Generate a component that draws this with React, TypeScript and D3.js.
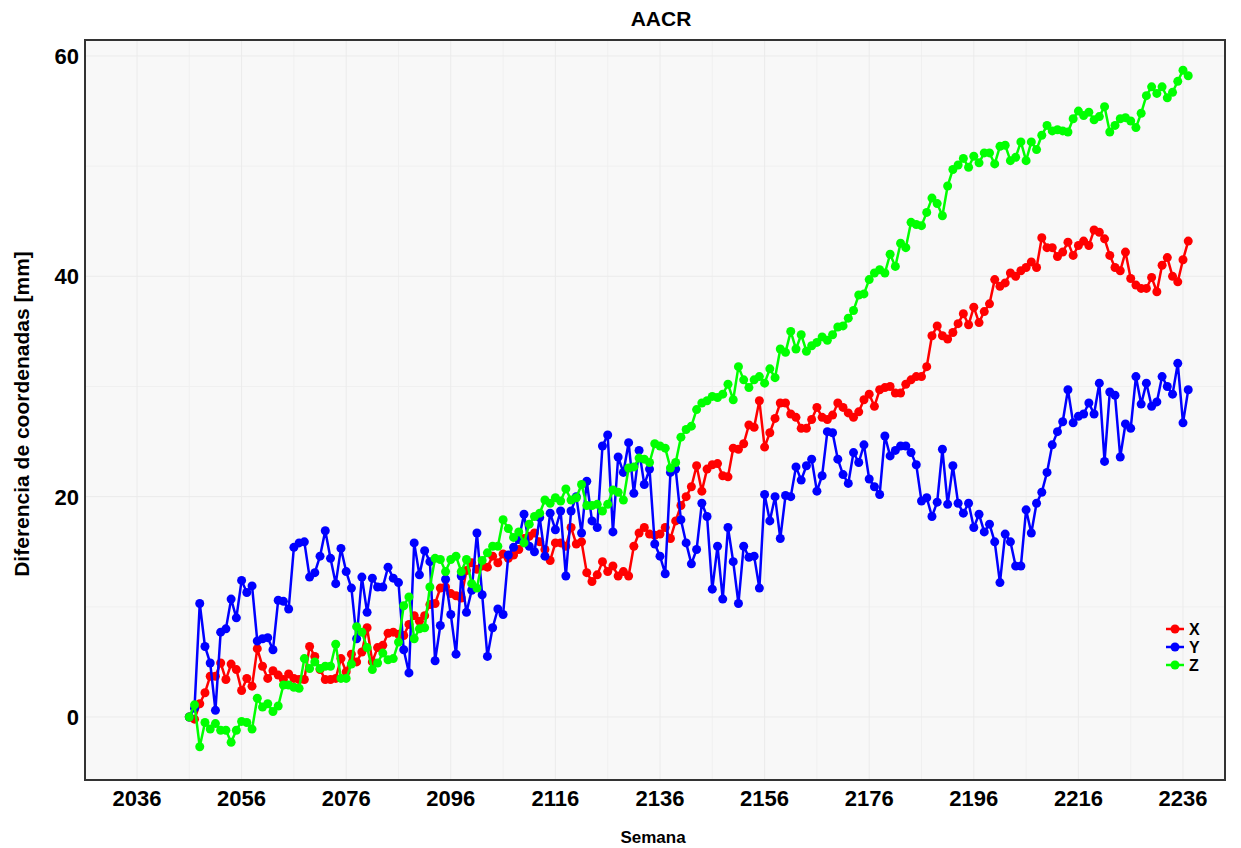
import React from 'react';
import * as d3 from 'd3';

const startWeek = 2046;

const xValues = [
  0, -0.2, 1.2, 2.2, 3.7, 3.7, 4.9, 3.4, 4.8, 4.3,
  2.4, 3.5, 2.8, 6.2, 4.6, 3.5, 4.2, 3.8, 3.4, 3.9,
  3.5, 3.4, 3.4, 6.4, 5.5, 4.3, 3.4, 3.4, 3.5, 5.3,
  4.1, 5.7, 5.0, 5.9, 8.1, 5.0, 6.3, 6.5, 7.6, 7.7,
  7.5, 7.4, 8.4, 9.2, 8.7, 9.2, 10.2, 10.3, 11.7, 11.8,
  11.2, 11.0, 10.8, 13.3, 14.0, 13.4, 13.7, 13.6, 14.6, 14.0,
  14.8, 14.4, 14.7, 15.2, 16.2, 16.4, 16.7, 15.9, 15.2, 14.2,
  15.8, 15.8, 15.5, 17.2, 15.7, 15.9, 13.1, 12.3, 12.9, 14.1,
  13.2, 13.7, 12.8, 13.2, 12.8, 15.5, 16.7, 17.2, 16.6, 16.5,
  16.6, 17.2, 16.2, 17.8, 19.2, 20.0, 20.9, 22.8, 20.5, 22.5,
  22.9, 23.0, 21.9, 21.8, 24.4, 24.3, 24.8, 26.5, 26.3, 28.7,
  24.5, 25.8, 27.1, 28.5, 28.5, 27.5, 27.2, 26.2, 26.2, 27.0,
  28.1, 27.2, 27.0, 27.4, 28.5, 28.1, 27.6, 27.2, 27.7, 28.8,
  29.3, 28.2, 29.7, 29.9, 30.0, 29.4, 29.4, 30.2, 30.6, 30.9,
  30.9, 31.8, 34.6, 35.5, 34.6, 34.3, 34.9, 35.7, 36.6, 35.6,
  37.2, 35.8, 36.8, 37.5, 39.7, 39.1, 39.4, 40.3, 40.0, 40.5,
  40.8, 41.3, 40.8, 43.5, 42.6, 42.6, 41.8, 42.2, 43.1, 41.9,
  42.8, 43.2, 42.8, 44.2, 44.0, 43.4, 41.9, 40.8, 40.5, 42.2,
  39.8, 39.2, 38.9, 38.9, 39.9, 38.6, 41.0, 41.7, 40.0, 39.5,
  41.5, 43.2,
];

const yValues = [
  0, 0.8, 10.3, 6.4, 4.9, 0.6, 7.7, 8.0, 10.7, 9.0,
  12.4, 11.3, 11.9, 6.9, 7.1, 7.2, 6.1, 10.6, 10.5, 9.8,
  15.4, 15.8, 15.9, 12.7, 13.1, 14.6, 16.9, 14.4, 12.1, 15.3,
  13.2, 11.7, 7.1, 12.7, 9.5, 12.6, 11.8, 11.8, 13.6, 12.6,
  12.2, 6.1, 4.0, 15.8, 12.9, 15.1, 14.1, 5.1, 8.3, 12.5,
  9.3, 5.7, 12.8, 9.5, 11.5, 16.7, 11.1, 5.5, 8.1, 9.8,
  9.3, 14.7, 15.4, 16.1, 18.4, 15.5, 15.0, 18.1, 14.6, 18.5,
  17.0, 18.7, 12.8, 18.7, 20.0, 16.7, 21.4, 17.8, 17.2, 24.6,
  25.6, 16.8, 23.6, 22.2, 24.9, 20.3, 24.2, 21.1, 22.5, 15.7,
  14.6, 13.0, 22.2, 22.5, 17.9, 15.8, 13.9, 15.2, 19.4, 18.2,
  11.6, 15.5, 10.7, 17.2, 14.1, 10.3, 15.5, 14.5, 14.6, 11.7,
  20.2, 17.8, 20.0, 16.2, 20.1, 20.0, 22.7, 21.5, 22.8, 23.4,
  20.5, 21.9, 25.9, 25.8, 23.4, 22.0, 21.2, 24.0, 23.1, 24.7,
  21.6, 20.9, 20.2, 25.5, 23.7, 24.2, 24.6, 24.6, 24.0, 22.9,
  19.6, 19.9, 18.2, 19.5, 24.3, 19.3, 22.8, 19.4, 18.5, 19.4,
  17.2, 18.4, 16.8, 17.5, 15.9, 12.2, 16.6, 15.9, 13.7, 13.7,
  18.8, 16.7, 19.4, 20.4, 22.2, 24.7, 25.9, 26.8, 29.7, 26.7,
  27.3, 27.5, 28.5, 27.5, 30.3, 23.2, 29.5, 29.2, 23.6, 26.6,
  26.2, 30.9, 28.4, 30.3, 28.2, 28.6, 30.9, 30.0, 29.3, 32.1,
  26.7, 29.7,
];

const zValues = [
  0, 1.1, -2.7, -0.5, -1.1, -0.6, -1.2, -1.2, -2.3, -1.2,
  -0.4, -0.5, -1.1, 1.7, 0.9, 1.2, 0.5, 1.0, 2.9, 2.9,
  2.7, 2.6, 5.3, 4.4, 5.0, 4.4, 4.6, 4.6, 6.6, 3.5,
  3.5, 4.8, 8.2, 7.7, 6.3, 4.3, 4.9, 5.8, 5.2, 5.3,
  6.8, 10.1, 10.9, 7.1, 8.0, 8.1, 11.8, 14.4, 14.3, 13.2,
  14.3, 14.6, 13.2, 14.3, 12.1, 11.7, 14.2, 14.9, 15.5, 15.5,
  17.9, 17.1, 16.3, 16.8, 15.8, 17.5, 18.2, 18.5, 19.7, 19.4,
  19.9, 19.6, 20.7, 19.7, 19.9, 21.1, 19.2, 19.2, 19.3, 18.7,
  19.3, 20.6, 20.4, 19.7, 22.6, 22.7, 23.5, 23.4, 23.1, 24.8,
  24.6, 24.4, 22.6, 23.1, 25.4, 26.1, 26.4, 27.9, 28.5, 28.7,
  29.1, 29.0, 29.3, 30.2, 28.8, 31.8, 30.6, 29.9, 30.6, 30.9,
  30.3, 31.6, 30.8, 33.4, 33.1, 35.0, 33.4, 34.7, 33.2, 33.7,
  34.0, 34.5, 34.2, 34.7, 35.4, 35.5, 36.2, 36.9, 38.3, 38.4,
  39.7, 40.3, 40.6, 40.3, 42.0, 40.9, 43.0, 42.6, 44.9, 44.7,
  44.6, 45.8, 47.1, 46.6, 45.5, 48.2, 49.7, 50.1, 50.7, 49.9,
  50.9, 50.3, 51.2, 51.2, 50.2, 51.8, 51.9, 50.5, 50.8, 52.2,
  50.5, 52.2, 51.5, 52.8, 53.7, 53.2, 53.3, 53.2, 53.1, 54.3,
  55.0, 54.6, 54.9, 54.2, 54.5, 55.4, 53.1, 53.7, 54.3, 54.4,
  54.1, 53.5, 54.8, 56.4, 57.2, 56.6, 57.2, 56.2, 56.7, 57.7,
  58.7, 58.2,
];

const seriesNames = ['X', 'Y', 'Z'];
const seriesColors = ['#ff0000', '#0000ff', '#00ff00'];
const seriesData = [xValues, yValues, zValues];

const xTicks = [2036, 2056, 2076, 2096, 2116, 2136, 2156, 2176, 2196, 2216, 2236];
const xMinorTicks = [2046, 2066, 2086, 2106, 2126, 2146, 2166, 2186, 2206, 2226];
const yTicks = [0, 20, 40, 60];
const yMinorTicks = [10, 30, 50];

const titleText = 'AACR';
const xTitle = 'Semana';
const yTitle = 'Diferencia de coordenadas [mm]';

const W = 1241;
const H = 848;
const PL = 85, PR = 1225, PT = 40, PB = 780;
const FONT = "Arial, 'Liberation Sans', sans-serif";

export default function App() {
  const x = d3.scaleLinear().domain([2026.06, 2244.03]).range([PL, PR]);
  const y = d3.scaleLinear().domain([-5.72, 61.45]).range([PB, PT]);
  const line = d3
    .line<number>()
    .x((_, i) => x(startWeek + i))
    .y((d) => y(d));

  return (
    <svg
      width={W}
      height={H}
      style={{ position: 'absolute', left: 0, top: 0, background: '#ffffff' }}
      fontFamily={FONT}
    >
      <rect x={0} y={0} width={W} height={H} fill="#ffffff" />
      <rect x={PL} y={PT} width={PR - PL} height={PB - PT} fill="#f8f8f8" />
      {xMinorTicks.map((t) => (
        <line key={'xm' + t} x1={x(t)} x2={x(t)} y1={PT} y2={PB} stroke="#f0f0f0" strokeWidth={1} />
      ))}
      {yMinorTicks.map((t) => (
        <line key={'ym' + t} x1={PL} x2={PR} y1={y(t)} y2={y(t)} stroke="#f0f0f0" strokeWidth={1} />
      ))}
      {xTicks.map((t) => (
        <line key={'xg' + t} x1={x(t)} x2={x(t)} y1={PT} y2={PB} stroke="#ebebeb" strokeWidth={1} />
      ))}
      {yTicks.map((t) => (
        <line key={'yg' + t} x1={PL} x2={PR} y1={y(t)} y2={y(t)} stroke="#ebebeb" strokeWidth={1} />
      ))}

      {seriesData.map((vals, si) => (
        <g key={seriesNames[si]}>
          <path d={line(vals) || ''} fill="none" stroke={seriesColors[si]} strokeWidth={2.5} strokeLinejoin="round" />
          {vals.map((v, i) => (
            <circle key={i} cx={x(startWeek + i)} cy={y(v)} r={4.5} fill={seriesColors[si]} />
          ))}
        </g>
      ))}

      <rect x={PL} y={PT} width={PR - PL} height={PB - PT} fill="none" stroke="#333333" strokeWidth={2} />

      {xTicks.map((t) => (
        <text key={'xt' + t} x={x(t)} y={806} textAnchor="middle" fontSize={22} fontWeight="bold" fill="#000">
          {t}
        </text>
      ))}
      {yTicks.map((t) => (
        <text key={'yt' + t} x={79} y={y(t) + 8} textAnchor="end" fontSize={22} fontWeight="bold" fill="#000">
          {t}
        </text>
      ))}

      <text x={661} y={26} textAnchor="middle" fontSize={21} fontWeight="bold" fill="#000">
        {titleText}
      </text>
      <text x={653} y={843} textAnchor="middle" fontSize={17} fontWeight="bold" fill="#000">
        {xTitle}
      </text>
      <text
        transform={`translate(29, 414) rotate(-90)`}
        textAnchor="middle"
        fontSize={21}
        fontWeight="bold"
        fill="#000"
      >
        {yTitle}
      </text>

      {seriesNames.map((n, i) => {
        const ly = 629 + i * 18;
        return (
          <g key={'lg' + n}>
            <line x1={1166} x2={1184} y1={ly} y2={ly} stroke={seriesColors[i]} strokeWidth={2.5} />
            <circle cx={1175} cy={ly} r={4.5} fill={seriesColors[i]} />
            <text x={1189} y={ly + 6} fontSize={16} fontWeight="bold" fill="#000">
              {n}
            </text>
          </g>
        );
      })}
    </svg>
  );
}
